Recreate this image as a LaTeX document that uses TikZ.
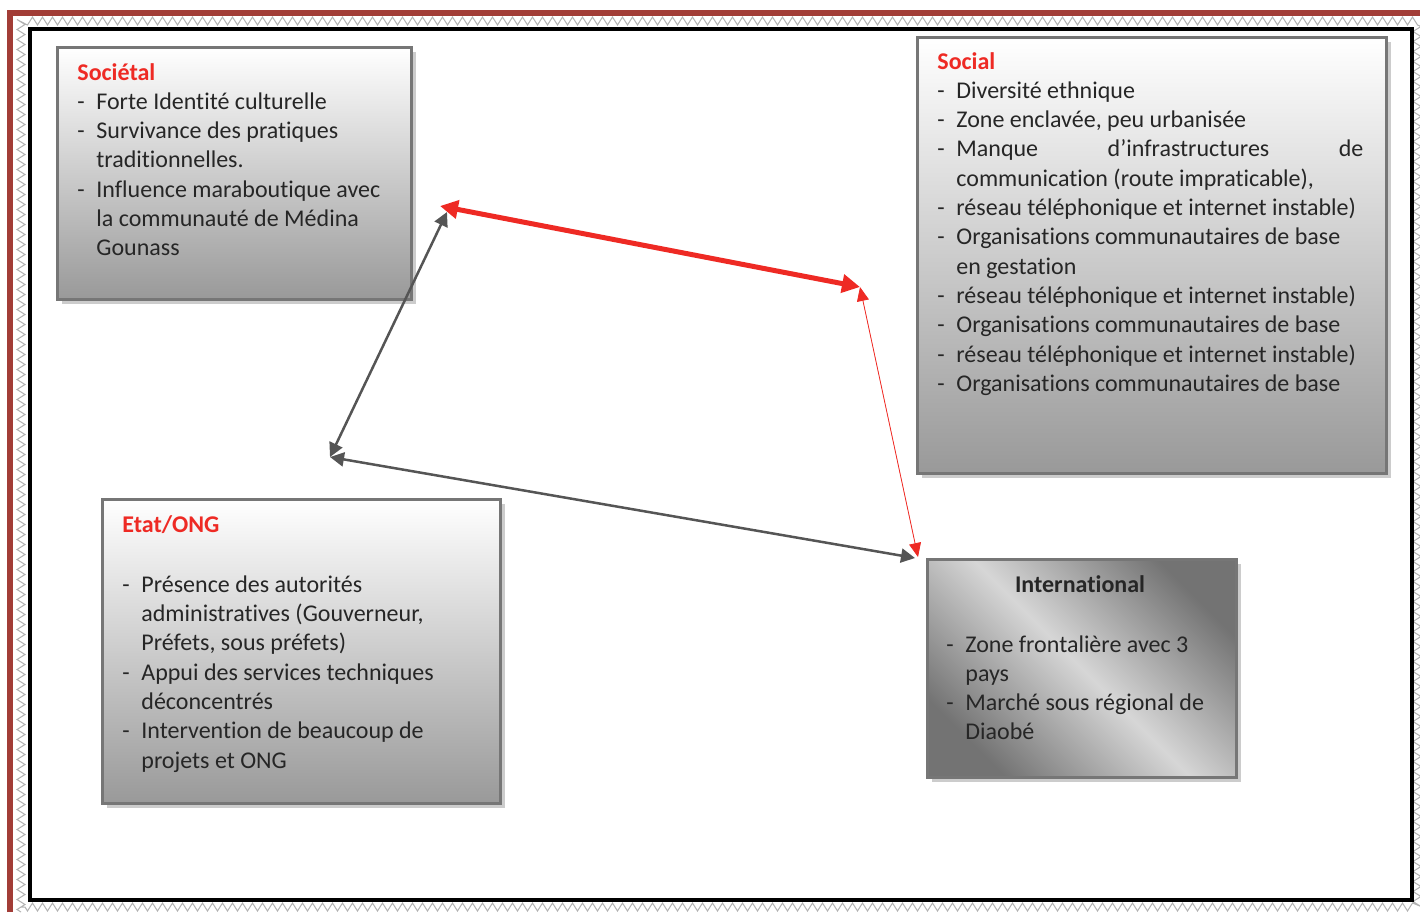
\documentclass[tikz,border=0pt]{standalone}
\usepackage{fontspec}
\setmainfont{Carlito}[Ligatures={NoCommon,NoContextual}]
\usetikzlibrary{arrows.meta,shadows,decorations.pathmorphing}

\definecolor{framered}{HTML}{A23D37}
\definecolor{titlered}{HTML}{EE2A24}
\definecolor{arrowgrey}{HTML}{555555}
\definecolor{boxline}{HTML}{767676}
\definecolor{inktext}{HTML}{262626}

\newcommand{\dash}{\makebox[9.5pt][l]{-}}
\newcommand{\cont}{\hspace*{9.5pt}}
\newcommand{\ttl}[1]{\textcolor{titlered}{\bfseries #1}}
\newenvironment{lines}{\begin{tabular}[t]{@{}l@{}}}{\end{tabular}}

\begin{document}
\begin{tikzpicture}[x=0.5pt, y=-0.5pt,
  panel/.style={draw=boxline, line width=1.5pt, anchor=north west, inner sep=0pt,
    top color=white, bottom color=black!40,
    drop shadow={shadow xshift=2pt, shadow yshift=-2pt, fill=black!20, opacity=1}},
  intpanel/.style={panel, top color=black!55, bottom color=black!55, middle color=black!16, shading angle=-45},
  txt/.style={anchor=base west, inner sep=0pt, text=inktext, font=\fontsize{12}{14.65}\selectfont},
  hatch/.style={draw=black!30, line width=0.5pt, decorate, decoration={zigzag, segment length=5pt, amplitude=2pt}},
  bigred/.style={{Triangle[length=9pt,width=9pt]}-{Triangle[length=9pt,width=9pt]}, line width=2.5pt, draw=titlered},
  thinred/.style={{Triangle[length=7pt,width=6pt]}-{Triangle[length=7pt,width=6pt]}, line width=0.4pt, draw=titlered, fill=titlered},
  link/.style={{Triangle[length=7pt,width=7pt]}-{Triangle[length=7pt,width=7pt]}, line width=1.25pt, draw=arrowgrey}]
\useasboundingbox (0,0) rectangle (1420,912);

% frame
\draw[hatch] (21,912) -- (21,21) -- (1417,21) -- (1417,907) -- (21,907);
\draw[framered, line width=3pt] (10,912) -- (10,13) -- (1420,13);
\draw[black, line width=2pt] (30,29) rectangle (1412,900);

% panels
\node[panel, minimum width=177pt, minimum height=126pt] (societal) at (56,46) {};
\node[panel, minimum width=234.5pt, minimum height=218pt] (social) at (916,36) {};
\node[panel, minimum width=199pt, minimum height=152pt] (etat) at (101,498) {};
\node[intpanel, minimum width=154.5pt, minimum height=109pt] (intl) at (926,558) {};

\node[txt] (societalTxt) at (77,80) {\begin{lines}\ttl{Sociétal}\\
  \dash Forte Identité culturelle\\
  \dash Survivance des pratiques\\
  \cont traditionnelles.\\
  \dash Influence maraboutique avec\\
  \cont la communauté de Médina\\
  \cont Gounass\end{lines}};

\node[txt] (socialTxt) at (937,69) {\begin{lines}\ttl{Social}\\
  \dash Diversité ethnique\\
  \dash Zone enclavée, peu urbanisée\\
  \dash\makebox[203.5pt][s]{Manque\hfill d’infrastructures\hfill de}\\
  \cont communication (route impraticable),\\
  \dash réseau téléphonique et internet instable)\\
  \dash Organisations communautaires de base\\
  \cont en gestation\\
  \dash réseau téléphonique et internet instable)\\
  \dash Organisations communautaires de base\\
  \dash réseau téléphonique et internet instable)\\
  \dash Organisations communautaires de base\end{lines}};

\node[txt] (etatTxt) at (122,532) {\begin{lines}\ttl{Etat/ONG}\\[15.5pt]
  \dash Présence des autorités\\
  \cont administratives (Gouverneur,\\
  \cont Préfets, sous préfets)\\
  \dash Appui des services techniques\\
  \cont déconcentrés\\
  \dash Intervention de beaucoup de\\
  \cont projets et ONG\end{lines}};

\node[txt, anchor=base] (intlTitle) at (1080,592) {\bfseries International};
\node[txt] (intlTxt) at (946,652) {\begin{lines}\dash Zone frontalière avec 3\\
  \cont pays\\
  \dash Marché sous régional de\\
  \cont Diaobé\end{lines}};

% arrows
\coordinate (hubSocR) at (440,206);
\coordinate (hubSocG) at (447,212);
\coordinate (hubSocial) at (860,287);
\coordinate (hubEtat) at (330,457);
\coordinate (hubIntR) at (918,557);
\coordinate (hubIntG) at (915,558);

\draw[bigred] (hubSocR) -- (hubSocial);
\draw[thinred] (hubSocial) -- (hubIntR);
\draw[link] (hubSocG) -- (hubEtat);
\draw[link] (hubEtat) -- (hubIntG);
\end{tikzpicture}
\end{document}
